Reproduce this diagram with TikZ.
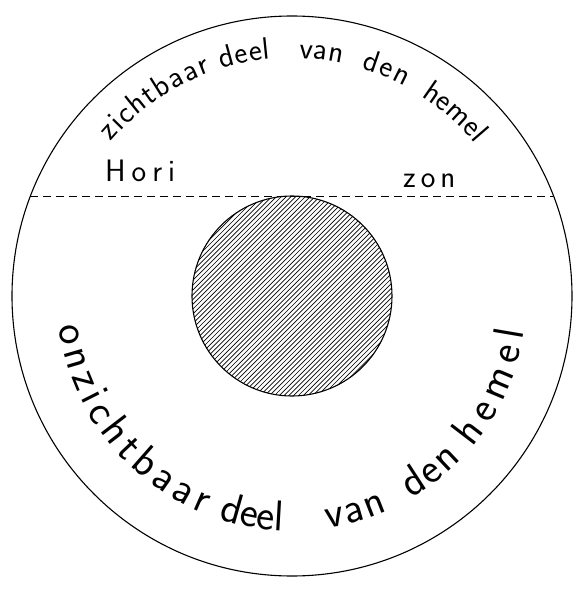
\documentclass[tikz,border=0pt]{standalone}
\usetikzlibrary{decorations.text}
\newcommand\bovenfont{\sffamily\fontsize{31}{31}\selectfont}
\newcommand\onderfont{\sffamily\fontsize{43}{43}\selectfont}
\tikzset{
  cirkel/.style={line width=1.1pt},
  kim/.style={line width=0.9pt, dash pattern=on 8pt off 5pt},
  arcering/.style={line width=0.65pt},
  boventekst/.style={decorate, decoration={text along path, text align=fit to path, text={|\bovenfont|#1}}},
  ondertekst/.style={decorate, decoration={text along path, text align=fit to path, text={|\onderfont|#1}}}
}
\begin{document}
\begin{tikzpicture}[x=1pt,y=1pt]
\useasboundingbox (-292,-294) rectangle (292,296);
\fill[white] (-292,-294) rectangle (292,296);

\coordinate (m) at (0,0);
\coordinate (kl) at (-261.5,100);
\coordinate (kr) at (261.5,100);

\draw[cirkel] (m) circle (280);
\begin{scope}
\clip (m) circle (100);
\foreach \k in {-230,-225.2,...,230}
  \draw[arcering] ({\k-110},-110) -- ({\k+110},110);
\end{scope}
\draw[cirkel] (m) circle (100);
\draw[kim] (kl) -- (kr);

\node[anchor=base west, inner sep=0pt, font=\bovenfont] (hori) at (-187,115) {H\hspace{6pt}o\hspace{6pt}r\hspace{6pt}i};
\node[anchor=base west, inner sep=0pt, font=\bovenfont] (zon) at (111,109) {z\hspace{5pt}o\hspace{5pt}n};

\path[boventekst=zichtbaar] (139.6:238) arc[start angle=139.6, end angle=110, radius=238];
\path[boventekst=deel] (107.2:238) arc[start angle=107.2, end angle=95.1, radius=238];
\path[boventekst=van] (88.3:238) arc[start angle=88.3, end angle=77.9, radius=238];
\path[boventekst=den] (73:238) arc[start angle=73, end angle=61.7, radius=238];
\path[boventekst=hemel] (57:238) arc[start angle=57, end angle=40.5, radius=238];

\path[ondertekst=onzichtbaar] (187.5:235) arc[start angle=187.5, end angle=248, radius=235];
\path[ondertekst=deel] (251.7:235) arc[start angle=251.7, end angle=267.5, radius=235];
\path[ondertekst=van] (278.7:235) arc[start angle=278.7, end angle=294, radius=235];
\path[ondertekst=den] (300.5:235) arc[start angle=300.5, end angle=316, radius=235];
\path[ondertekst=hemel] (320:235) arc[start angle=320, end angle=351.5, radius=235];

\end{tikzpicture}
\end{document}
